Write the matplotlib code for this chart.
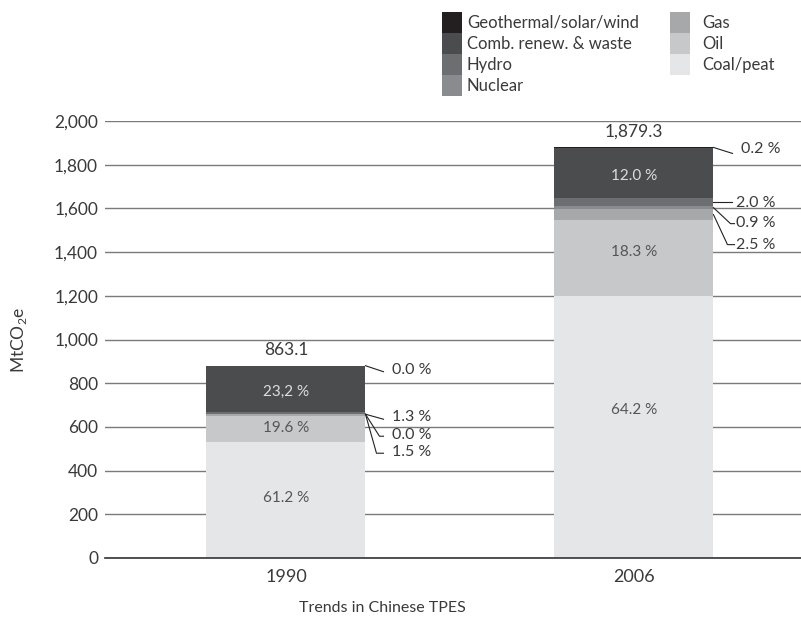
import numpy as np
import matplotlib.pyplot as plt
from matplotlib.patches import Patch
from matplotlib.ticker import FuncFormatter

plt.rcParams['font.family'] = ['Lato', 'DejaVu Sans']
plt.rcParams['mathtext.fontset'] = 'custom'
plt.rcParams['mathtext.rm'] = 'Lato'

# data (MtCO2e)
years = ['1990', '2006']
sources = ['Coal/peat', 'Oil', 'Gas', 'Nuclear', 'Hydro',
           'Comb. renew. & waste', 'Geothermal/solar/wind']
vals_1990 = [530, 119, 9, 0, 9, 210, 3]
vals_2006 = [1201, 347, 47, 17, 37, 226, 4]
totals = ['863.1', '1,879.3']
inner_1990 = {'Coal/peat': '61.2 %', 'Oil': '19.6 %', 'Comb. renew. & waste': '23,2 %'}
inner_2006 = {'Coal/peat': '64.2 %', 'Oil': '18.3 %', 'Comb. renew. & waste': '12.0 %'}
outer_1990 = {'Geothermal/solar/wind': '0.0 %', 'Hydro': '1.3 %', 'Nuclear': '0.0 %', 'Gas': '1.5 %'}
outer_2006 = {'Geothermal/solar/wind': '0.2 %', 'Hydro': '2.0 %', 'Nuclear': '0.9 %', 'Gas': '2.5 %'}

colors = ['#e5e6e7', '#c7c8ca', '#a7a8aa', '#8a8b8e', '#6d6e71', '#4b4c4e', '#231f20']
txt = '#3a3a3a'
# vertical nudge (in data units) for inner labels, by bar
nudge = [{'Coal/peat': 10, 'Oil': 5, 'Comb. renew. & waste': -10},
         {'Coal/peat': 77, 'Oil': 26, 'Comb. renew. & waste': -14}]

fig = plt.figure(figsize=(8.01, 6.17), dpi=100)
W, H = 801, 617
ax = fig.add_axes([105 / W, (H - 558) / H, (W - 105) / W, (558 - 121) / H])

data = np.array([vals_1990, vals_2006])
x = np.arange(len(years))
width = 0.457
bottom = np.zeros(len(years))
for j, s in enumerate(sources):
    ax.bar(x, data[:, j], width, bottom=bottom, color=colors[j], zorder=3, linewidth=0)
    bottom += data[:, j]

ax.set_ylim(0, 2000)
ax.set_xlim(-0.52, 1.48)
ax.set_yticks(range(0, 2001, 200))
ax.yaxis.set_major_formatter(FuncFormatter(lambda v, p: f'{int(v):,}'))
ax.grid(axis='y', color='#7a7a7a', lw=1, zorder=0)
for sp in ['top', 'right', 'left']:
    ax.spines[sp].set_visible(False)
ax.spines['bottom'].set_color('#333333')
ax.spines['bottom'].set_linewidth(1.2)
ax.spines['bottom'].set_zorder(4)
ax.tick_params(axis='y', length=0, pad=5, labelsize=12.5, labelcolor=txt)
ax.tick_params(axis='x', length=0, pad=8, labelsize=13, labelcolor=txt)
ax.set_xticks(x)
ax.set_xticklabels(years)
ax.set_ylabel('MtCO$_2$e', fontsize=12.5, color=txt, labelpad=18)
fig.text(382 / W, 1 - 608 / H, 'Trends in Chinese TPES', ha='center', va='center',
         fontsize=11.5, color=txt)

# labels inside and above bars
inner = [inner_1990, inner_2006]
outer = [outer_1990, outer_2006]
for i in range(len(years)):
    cum = np.concatenate([[0], np.cumsum(data[i])])
    for j, s in enumerate(sources):
        if s in inner[i]:
            c = '#dddddd' if j >= 5 else '#555555'
            ax.text(i, (cum[j] + cum[j + 1]) / 2 + nudge[i][s], inner[i][s], ha='center',
                    va='center', fontsize=11, color=c, zorder=5)
    ax.text(i, cum[-1] + 35, totals[i], ha='center', va='bottom', fontsize=12.5, color=txt)

fig.canvas.draw()


def leader(i, yv, pts, tpos, label):
    # pts/tpos are pixel offsets from the start point at the bar's right edge
    x0, y0 = ax.transData.transform((i + width / 2, yv))
    xs = [x0] + [x0 + p[0] for p in pts]
    ys = [y0] + [y0 + p[1] for p in pts]
    d = ax.transData.inverted().transform(np.column_stack([xs, ys]))
    ax.plot(d[:, 0], d[:, 1], color='#222222', lw=0.8, clip_on=False, zorder=6)
    t = ax.transData.inverted().transform((x0 + tpos[0], y0 + tpos[1]))
    ax.text(t[0], t[1], label, ha='left', va='center', fontsize=11.5, color=txt)


# 1990
c90 = np.cumsum(vals_1990)
leader(0, c90[-1], [(18, -6)], (27, -4), outer_1990['Geothermal/solar/wind'])
leader(0, c90[3], [(18, -5)], (27, -3), outer_1990['Hydro'])
leader(0, c90[3], [(14, -22), (18, -22)], (27, -21), outer_1990['Nuclear'])
leader(0, c90[3], [(11, -39), (18, -39)], (27, -38), outer_1990['Gas'])
# 2006
c06 = np.cumsum(vals_2006)
leader(1, c06[-1], [(19, -6)], (28, -2), outer_2006['Geothermal/solar/wind'])
leader(1, (c06[3] + c06[4]) / 2, [(19, 0)], (23, -1), outer_2006['Hydro'])
leader(1, (c06[2] + c06[3]) / 2, [(17, -16), (21, -16)], (23, -15), outer_2006['Nuclear'])
leader(1, (c06[1] + c06[2]) / 2, [(14, -30), (21, -30)], (23, -30), outer_2006['Gas'])

# legend in two blocks
col1 = [6, 5, 4, 3]
col2 = [2, 1, 0]
common = dict(loc='upper left', frameon=False, fontsize=12, handlelength=1.2,
              handleheight=1.55, labelspacing=0.0, labelcolor=txt,
              borderaxespad=0, borderpad=0)
fig.legend([Patch(facecolor=colors[k], edgecolor='none') for k in col1],
           [sources[k] for k in col1], bbox_to_anchor=(442 / W, 1 - 12 / H),
           handletextpad=0.3, **common)
fig.legend([Patch(facecolor=colors[k], edgecolor='none') for k in col2],
           [sources[k] for k in col2], bbox_to_anchor=(670 / W, 1 - 12 / H),
           handletextpad=0.72, **common)

fig.savefig('out.png', dpi=100)
